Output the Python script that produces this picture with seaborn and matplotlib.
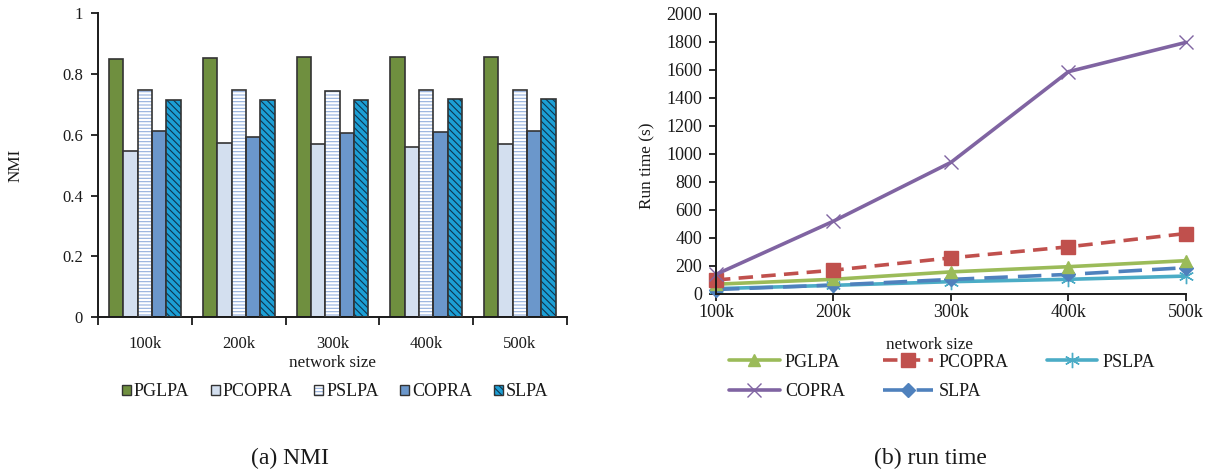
import numpy as np
import pandas as pd
import matplotlib
matplotlib.use("Agg")
import matplotlib.pyplot as plt
from matplotlib.patches import Rectangle, Patch
from matplotlib.legend_handler import HandlerTuple
from matplotlib.ticker import FormatStrFormatter
import seaborn as sns

# ---- data ----
sizes = ["100k", "200k", "300k", "400k", "500k"]
algorithms = ["PGLPA", "PCOPRA", "PSLPA", "COPRA", "SLPA"]

nmi_pglpa = [0.848, 0.853, 0.855, 0.855, 0.857]
nmi_pcopra = [0.548, 0.574, 0.569, 0.560, 0.569]
nmi_pslpa = [0.747, 0.747, 0.745, 0.747, 0.748]
nmi_copra = [0.612, 0.593, 0.605, 0.608, 0.611]
nmi_slpa = [0.714, 0.713, 0.716, 0.718, 0.717]

time_pglpa = [70, 105, 158, 195, 238]
time_pcopra = [100, 170, 258, 337, 432]
time_pslpa = [38, 62, 88, 105, 128]
time_copra = [140, 520, 940, 1588, 1797]
time_slpa = [32, 64, 104, 140, 188]

nmi = dict(zip(algorithms, [nmi_pglpa, nmi_pcopra, nmi_pslpa, nmi_copra, nmi_slpa]))
runtime = dict(zip(algorithms, [time_pglpa, time_pcopra, time_pslpa, time_copra, time_slpa]))

nmi_df = pd.DataFrame([(s, a, nmi[a][i]) for a in algorithms for i, s in enumerate(sizes)],
                      columns=["size", "algorithm", "nmi"])
time_df = pd.DataFrame([(i, s, a, runtime[a][i]) for a in algorithms for i, s in enumerate(sizes)],
                       columns=["pos", "size", "algorithm", "time"])

# ---- style ----
sns.set_theme(style="ticks")
plt.rcParams["font.family"] = ["Liberation Serif", "DejaVu Serif"]
plt.rcParams["hatch.linewidth"] = 0.8
plt.rcParams["axes.edgecolor"] = "#1a1a1a"
plt.rcParams["xtick.color"] = "#1a1a1a"
plt.rcParams["ytick.color"] = "#1a1a1a"
plt.rcParams["text.color"] = "#1a1a1a"
plt.rcParams["axes.labelcolor"] = "#1a1a1a"

fig = plt.figure(figsize=(12.11, 4.71), dpi=100)
ax1 = fig.add_axes([0.0810, 0.3270, 0.3870, 0.6448])
ax2 = fig.add_axes([0.5912, 0.3758, 0.3881, 0.5945])

# ---- (a) NMI bars ----
bar_face = {"PGLPA": "#6f8f3f", "PCOPRA": "#d3dfef", "PSLPA": "#ffffff",
            "COPRA": "#6b97cb", "SLPA": "#1c9fd5"}
bar_hatch = {"PSLPA": ("-----", "#93afdd"), "SLPA": ("\\\\\\\\\\", "#0e3550")}

sns.barplot(data=nmi_df, x="size", y="nmi", hue="algorithm", order=sizes,
            hue_order=algorithms, palette=bar_face, saturation=1, width=0.766,
            edgecolor="#333333", linewidth=1.2, legend=False, ax=ax1)

legend_handles = []
for alg, cont in zip(algorithms, ax1.containers):
    for p in cont.patches:
        if alg in bar_hatch:
            h, hc = bar_hatch[alg]
            p.set_hatch(h)
            p.set_edgecolor(hc)
            p.set_linewidth(0)
            ax1.add_patch(Rectangle(p.get_xy(), p.get_width(), p.get_height(),
                                    fill=False, edgecolor="#333333", lw=1.2, zorder=3))
    sample = cont.patches[0]
    legend_handles.append((
        Patch(facecolor=sample.get_facecolor(), hatch=sample.get_hatch(),
              edgecolor=sample.get_edgecolor() if alg in bar_hatch else "#333333", lw=0),
        Patch(facecolor="none", edgecolor="#333333", lw=1.0)))

ax1.set_ylim(0, 1)
ax1.set_xlim(-0.5, len(sizes) - 0.5)
ax1.set_yticks(np.arange(0, 1.01, 0.2))
ax1.yaxis.set_major_formatter(FormatStrFormatter("%g"))
ax1.set_xticks(range(len(sizes)))
ax1.set_xticklabels(sizes)
ax1.set_xticks(np.arange(-0.5, len(sizes), 1.0), minor=True)
ax1.tick_params(axis="x", which="major", length=0, labelsize=12, pad=14)
ax1.tick_params(axis="x", which="minor", length=6, width=1.3, direction="out")
ax1.tick_params(axis="y", length=5, width=1.3, labelsize=12, pad=6)
ax1.set_xlabel("network size", fontsize=12.3)
ax1.xaxis.set_label_coords(0.5, -0.125)
ax1.set_ylabel("NMI", fontsize=12.3)
ax1.yaxis.set_label_coords(-0.16, 0.5)
for s in ["top", "right"]:
    ax1.spines[s].set_visible(False)
for s in ["left", "bottom"]:
    ax1.spines[s].set_linewidth(1.4)

fig.legend(legend_handles, algorithms, handler_map={tuple: HandlerTuple(ndivide=1)},
           loc="center", bbox_to_anchor=(0.2766, 0.1680), ncol=5, frameon=False,
           fontsize=13, handlelength=0.5, handleheight=0.5, handletextpad=0.15,
           columnspacing=1.2)

# ---- (b) run time lines ----
line_style = {
    "PGLPA": dict(color="#9bbb59", marker="^", markersize=9, dashes=(None, None)),
    "PCOPRA": dict(color="#c0504d", marker="s", markersize=10, dashes=(4, 2.3)),
    "PSLPA": dict(color="#4bacc6", marker=(6, 2, 0), markersize=11, dashes=(None, None)),
    "COPRA": dict(color="#8064a2", marker="x", markersize=10, dashes=(None, None)),
    "SLPA": dict(color="#4f81bd", marker="D", markersize=7.5, dashes=(6.5, 2.8)),
}
draw_order = ["PSLPA", "SLPA", "PGLPA", "PCOPRA", "COPRA"]
for alg in draw_order:
    st = line_style[alg]
    sub = time_df[time_df["algorithm"] == alg]
    kw = dict(color=st["color"], marker=st["marker"], markersize=st["markersize"],
              markeredgecolor=st["color"], markeredgewidth=1.0, linewidth=2.6,
              clip_on=False, ax=ax2, legend=False)
    sns.lineplot(data=sub, x="pos", y="time", **kw)
    ln = ax2.lines[-1]
    if st["dashes"][0] is not None:
        ln.set_dashes(st["dashes"])
    ln.set_label(alg)

ax2.set_xlim(0, len(sizes) - 1)
ax2.set_ylim(0, 2000)
ax2.set_yticks(np.arange(0, 2001, 200))
ax2.set_xticks(range(len(sizes)))
ax2.set_xticklabels(sizes)
ax2.tick_params(axis="x", length=5, width=1.3, labelsize=13, pad=2)
ax2.tick_params(axis="y", length=5, width=1.3, labelsize=13, pad=5)
ax2.set_xlabel("network size", fontsize=12.3)
ax2.xaxis.set_label_coords(0.455, -0.155)
ax2.set_ylabel("Run time (s)", fontsize=12.4)
ax2.yaxis.set_label_coords(-0.128, 0.457)
for s in ["top", "right"]:
    ax2.spines[s].set_visible(False)
for s in ["left", "bottom"]:
    ax2.spines[s].set_linewidth(1.4)

handles = {ln.get_label(): ln for ln in ax2.lines}
# legend fills column by column; this order gives rows PGLPA/PCOPRA/PSLPA and COPRA/SLPA
leg_order = ["PGLPA", "COPRA", "PCOPRA", "SLPA", "PSLPA"]
fig.legend([handles[a] for a in leg_order], leg_order, loc="center",
           bbox_to_anchor=(0.778, 0.1996), ncol=3, frameon=False, fontsize=13,
           handlelength=2.8, handletextpad=0.3, columnspacing=2.1, labelspacing=0.7)

# ---- captions ----
fig.text(0.2395, 0.0276, "(a) NMI", ha="center", va="center", fontsize=17)
fig.text(0.768, 0.0276, "(b) run time", ha="center", va="center", fontsize=17)

fig.savefig("out.png", dpi=100)
